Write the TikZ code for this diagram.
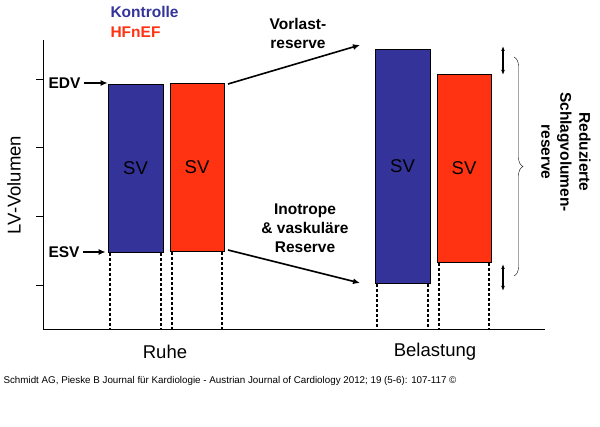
\documentclass[tikz,border=0pt]{standalone}
\usepackage{fontspec}
\setmainfont{Liberation Sans}
\usetikzlibrary{decorations.pathreplacing,arrows.meta}
\begin{document}
\begin{tikzpicture}[x=1pt,y=-1pt,
 bar/.style={draw=black,line width=0.8pt},
 dots/.style={line width=2pt,dash pattern=on 3pt off 2pt},
 lbl/.style={font=\bfseries\fontsize{15.5}{19}\selectfont,align=center},
 big/.style={font=\fontsize{18.5}{21}\selectfont},
 arr/.style={-{Latex[length=7pt,width=6pt]},line width=1.3pt}]
\useasboundingbox (0,0) rectangle (600,427);
\definecolor{kb}{RGB}{51,51,153}\definecolor{hr}{RGB}{255,51,17}
% axes
\draw[line width=1pt] (43,40) -- (43,330) -- (545,330);
\foreach \y in {80,148,217,286} \draw[line width=1pt] (36,\y) -- (43,\y);
\node[rotate=90,big] (yl) at (14,185) {LV-Volumen};
% bars
\node[bar,fill=kb,minimum width=55,minimum height=168,inner sep=0] (b1) at (135.5,168) {};
\node[bar,fill=hr,minimum width=54,minimum height=168,inner sep=0] (r1) at (197,167) {};
\node[bar,fill=kb,minimum width=55,minimum height=234,inner sep=0] (b2) at (402.5,166) {};
\node[bar,fill=hr,minimum width=54,minimum height=188,inner sep=0] (r2) at (464,168) {};
\foreach \n in {b1,r1,b2,r2} \node[big] at (\n) {SV};
\foreach \x/\t in {110/253,161/253,172/252,222/252,377/284,428/284,439/263,489/263}
  \draw[dots] (\x,\t) -- (\x,329);
% legend
\node[lbl,text=kb,anchor=west] (k) at (107,12) {Kontrolle};
\node[lbl,text=hr,anchor=west] (h) at (107,32) {HFnEF};
\node[lbl,anchor=west] (edv) at (45,83) {EDV};
\node[lbl,anchor=west] (esv) at (45,252) {ESV};
\draw[arr] (edv.east) -- (b1.west |- edv.east);
\draw[arr] (esv.east) -- ([xshift=-2pt]b1.south west |- esv.east);
% middle arrows
\coordinate (a1) at (228,84); \coordinate (a2) at (360,45);
\coordinate (c1) at (228,250); \coordinate (c2) at (360,283);
\draw[arr,line width=1.6pt] (a1) -- (a2);
\draw[arr,line width=1.6pt] (c1) -- (c2);
\node[lbl] (vr) at (298,33) {Vorlast-\\reserve};
\node[lbl] (ir) at (305,228) {Inotrope\\\& vaskuläre\\Reserve};
% right side
\coordinate (d1) at (503,46); \coordinate (d2) at (503,75);
\coordinate (d3) at (503,264); \coordinate (d4) at (503,291);
\draw[{Latex[length=5pt]}-{Latex[length=5pt]},line width=1.2pt] (d1) -- (d2);
\draw[{Latex[length=5pt]}-{Latex[length=5pt]},line width=1.2pt] (d3) -- (d4);
\draw[decorate,decoration={brace,amplitude=9pt}] (514,57) -- (514,276);
\node[lbl,rotate=-90] (rs) at (566,152) {Reduzierte\\Schlagvolumen-\\reserve};
% bottom
\node[big] (ru) at (165,352) {Ruhe};
\node[big] (be) at (435,352) {Belastung};
\node[font=\fontsize{9.8}{12}\selectfont,anchor=west] (cap) at (0,381) {Schmidt AG, Pieske B Journal für Kardiologie - Austrian Journal of Cardiology 2012; 19 (5-6): 107-117 ©};
\end{tikzpicture}
\end{document}
